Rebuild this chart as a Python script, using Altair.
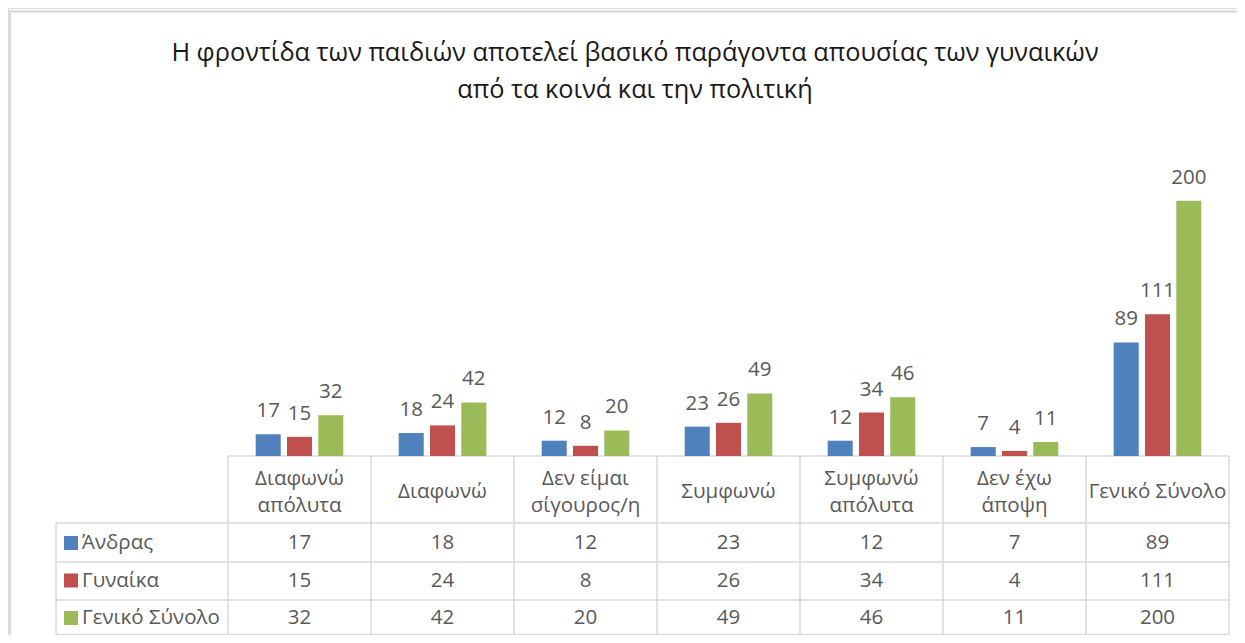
import altair as alt
import pandas as pd

# ---- data ----
title_lines = "Η φροντίδα των παιδιών αποτελεί βασικό παράγοντα απουσίας των γυναικών\nαπό τα κοινά και την πολιτική"
categories = ["Διαφωνώ\nαπόλυτα", "Διαφωνώ", "Δεν  είμαι\nσίγουρος/η", "Συμφωνώ",
              "Συμφωνώ\nαπόλυτα", "Δεν έχω\nάποψη", "Γενικό Σύνολο"]
series = ["Άνδρας", "Γυναίκα", "Γενικό Σύνολο"]
men = [17, 18, 12, 23, 12, 7, 89]
women = [15, 24, 8, 26, 34, 4, 111]
total = [32, 42, 20, 49, 46, 11, 200]
colors = ["#4F81BD", "#C0504D", "#9BBB59"]

rows = []
for s, vals in zip(series, [men, women, total]):
    for c, v in zip(categories, vals):
        rows.append({"cat": c, "series": s, "value": v})
df = pd.DataFrame(rows)
# header-label vertical placement: two-line labels start higher so the block is centred
cat_df = pd.DataFrame({"cat": categories,
                       "ly": [484 - 13 * c.count("\n") for c in categories]})
last_df = pd.DataFrame({"cat": [categories[-1]]})
ser_df = pd.DataFrame({"series": series})

FONT = "Open Sans"
TXT = "#595959"
GRID = "#d9d9d9"

x_scale = alt.Scale(domain=categories, range=[220, 1221], paddingInner=0, paddingOuter=0)
x_enc = alt.X("cat:N", scale=x_scale, axis=None, sort=categories)
xo_enc = alt.XOffset("series:N", scale=alt.Scale(domain=series, paddingInner=0.2, paddingOuter=0.885), sort=series)
y_val = alt.Y("value:Q", scale=alt.Scale(domain=[0, 250], range=[448, 129]), axis=None)
y_row = alt.Y("series:N", scale=alt.Scale(domain=series, type="point", range=[535, 610], padding=0), axis=None, sort=series)
color_enc = alt.Color("series:N", scale=alt.Scale(domain=series, range=colors), legend=None)

base = alt.Chart(df)

bars = base.mark_bar().encode(x=x_enc, xOffset=xo_enc, y=y_val, color=color_enc)
bar_labels = base.mark_text(font=FONT, fontSize=20.5, color=TXT, baseline="alphabetic", dy=-17).encode(
    x=x_enc, xOffset=xo_enc, y=y_val, text="value:Q")

table_vals = base.mark_text(font=FONT, fontSize=20.5, color=TXT, baseline="middle").encode(
    x=x_enc, y=y_row, text="value:Q")

legend_sq = alt.Chart(ser_df).mark_square(size=196, opacity=1, filled=True).encode(
    x=alt.value(63), y=y_row, color=color_enc)
legend_txt = alt.Chart(ser_df).mark_text(font=FONT, fontSize=20.5, color=TXT, align="left", baseline="middle").encode(
    x=alt.value(74), y=y_row, text="series:N")

cat_txt = alt.Chart(cat_df).mark_text(font=FONT, fontSize=20.5, color=TXT, baseline="middle",
                                       lineBreak="\n", lineHeight=27).encode(
    x=x_enc, y=alt.Y("ly:Q", scale=None, axis=None), text="cat:N")

vlines = alt.Chart(cat_df).mark_rule(color=GRID, strokeWidth=1.5).encode(
    x=alt.X("cat:N", scale=x_scale, axis=None, sort=categories, bandPosition=0),
    y=alt.value(448), y2=alt.value(626.5))
vline_last = alt.Chart(last_df).mark_rule(color=GRID, strokeWidth=1.5).encode(
    x=alt.X("cat:N", scale=x_scale, axis=None, sort=categories, bandPosition=1),
    y=alt.value(448), y2=alt.value(626.5))

hl_df = pd.DataFrame({"y": [448, 515, 554, 592, 626.5], "x0": [220, 48, 48, 48, 48]})
hlines = alt.Chart(hl_df).mark_rule(color=GRID, strokeWidth=1.5).encode(
    y=alt.Y("y:Q", scale=None, axis=None), x=alt.X("x0:Q", scale=None, axis=None), x2=alt.value(1221))
left_border = alt.Chart(cat_df.head(1)).mark_rule(color=GRID, strokeWidth=1.5).encode(
    x=alt.value(48), y=alt.value(515), y2=alt.value(626.5))

frame_top = alt.Chart(cat_df.head(1)).mark_rule(color=GRID, strokeWidth=2.5).encode(
    x=alt.value(1), x2=alt.value(1229), y=alt.value(3.5))
frame_left = alt.Chart(cat_df.head(1)).mark_rule(color=GRID, strokeWidth=2.5).encode(
    x=alt.value(2), y=alt.value(3), y2=alt.value(627))

title = alt.Chart(pd.DataFrame({"t": [title_lines]})).mark_text(
    font=FONT, fontSize=25.3, color="#1a1a1a", baseline="alphabetic", align="center",
    lineBreak="\n", lineHeight=37).encode(
    x=alt.value(627), y=alt.value(53), text="t:N")

chart = alt.layer(
    frame_top, frame_left, hlines, vlines, vline_last, left_border,
    bars, bar_labels, table_vals, legend_sq, legend_txt, cat_txt, title
).resolve_scale(y="independent", x="shared").properties(
    width=1229, height=627, autosize=alt.AutoSizeParams(type="none"), padding=0,
).configure_view(stroke=None).configure(background="white")

chart.save("out.html", embed_options={"renderer": "svg", "actions": False})
